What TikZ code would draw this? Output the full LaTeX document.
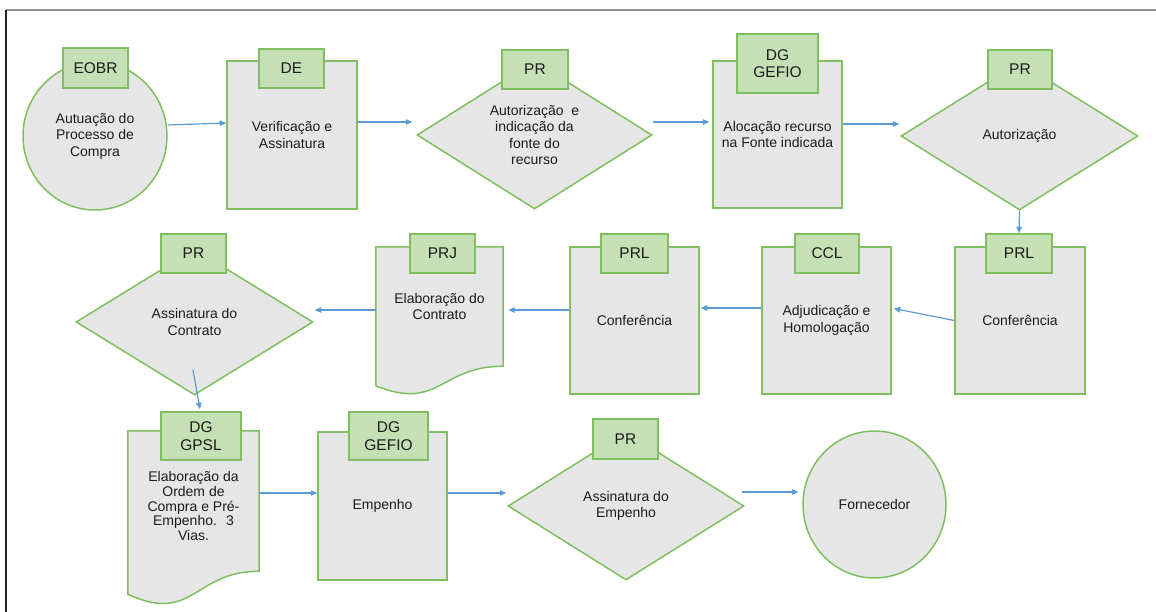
\documentclass[tikz,border=0pt]{standalone}
\usepackage{fontspec}
\setmainfont{Liberation Sans}
\usetikzlibrary{shapes.geometric,arrows.meta,backgrounds}

\definecolor{shapegray}{HTML}{E7E6E6}
\definecolor{edgegreen}{HTML}{7FBF5F}
\definecolor{hdrgreen}{HTML}{C5E0B4}
\definecolor{flowblue}{HTML}{5B9BD5}
\definecolor{txtcol}{HTML}{1C1C1C}

\tikzset{
  bodytxt/.style={font=\fontsize{14}{16.5}\selectfont, text=txtcol, align=center},
  shapeline/.style={draw=edgegreen, fill=shapegray, line width=1.5pt},
  procbox/.style={shapeline, rectangle, inner sep=0pt, bodytxt},
  decbox/.style={shapeline, diamond, aspect=1.6, inner sep=0pt, bodytxt},
  termbox/.style={shapeline, ellipse, inner sep=0pt, bodytxt},
  docnode/.style={rectangle, inner sep=0pt, bodytxt},
  hdr/.style={draw=edgegreen, fill=hdrgreen, line width=1.5pt, inner sep=0pt,
    font=\fontsize{15.5}{17.5}\selectfont, text=txtcol, align=center},
  flow/.style={draw=flowblue, line width=1.2pt, -{Triangle[length=6.5pt,width=5.5pt]}},
}

\begin{document}
\begin{tikzpicture}[x=1pt,y=-1pt]
\useasboundingbox (0,0) rectangle (1156,612);

% page frame
\draw[line width=1.4pt, gray!85] (6,10) -- (1156,10);
\draw[line width=1.4pt, black!85] (6,10) -- (6,612);

% ---- first row ----
\node[termbox, minimum width=144pt, minimum height=148pt] (eobr) at (95,136) {Autuação do\\Processo de\\Compra};
\node[procbox, minimum width=130pt, minimum height=148pt] (de) at (292,135) {Verificação e\\Assinatura};
\node[decbox, minimum width=235pt, minimum height=148pt] (d1) at (534.5,135) {Autorização~ e\\indicação da\\fonte do\\recurso};
\node[procbox, minimum width=129pt, minimum height=147pt] (gef1) at (777.5,134.5) {Alocação recurso\\na Fonte indicada};
\node[decbox, minimum width=237pt, minimum height=148pt] (d2) at (1019.5,136) {Autorização};

\node[hdr, minimum width=65pt, minimum height=40pt] (heobr) at (95.5,68) {EOBR};
\node[hdr, minimum width=65pt, minimum height=39pt] (hde) at (291.5,68.5) {DE};
\node[hdr, minimum width=66pt, minimum height=39pt] (hd1) at (535,69.5) {PR};
\node[hdr, minimum width=81pt, minimum height=59pt] (hgef1) at (777.5,63.5) {DG\\GEFIO};
\node[hdr, minimum width=64pt, minimum height=39pt] (hd2) at (1020,69.5) {PR};

% ---- second row ----
\node[procbox, minimum width=130pt, minimum height=147pt] (prl1) at (1020,320.5) {Conferência};
\node[procbox, minimum width=129pt, minimum height=147pt] (ccl) at (826.5,320.5) {Adjudicação e\\Homologação};
\node[procbox, minimum width=129pt, minimum height=147pt] (prlm) at (634.5,320.5) {Conferência};
\node[docnode, minimum width=127pt, minimum height=119pt] (prj) at (439.5,306.5) {Elaboração do\\Contrato};
\node[decbox, minimum width=237pt, minimum height=146pt] (d3) at (194.5,322) {Assinatura do\\Contrato};

% ---- third row ----
\node[docnode, minimum width=131pt, minimum height=130pt,
  font=\fontsize{14}{14.8}\selectfont] (gpsl) at (193.5,506) {Elaboração da\\Ordem de\\Compra e Pré-\\Empenho.~ 3\\Vias.};
\node[procbox, minimum width=129pt, minimum height=148pt] (gef2) at (382.5,506) {Empenho};
\node[decbox, minimum width=236pt, minimum height=148pt] (d4) at (626,506) {Assinatura do\\Empenho};
\node[termbox, minimum width=143pt, minimum height=147pt] (forn) at (874.5,504.5) {Fornecedor};

% document outlines with wavy bottom edge
\begin{scope}[on background layer]
\draw[shapeline] (prj.north west) -- (prj.north east) -- (prj.south east)
  .. controls ([xshift=-63.5pt]prj.south east) and ([xshift=63.5pt,yshift=-45.3pt]prj.south west)
  .. ([yshift=-19.6pt]prj.south west) -- cycle;
\draw[shapeline] ([yshift=10pt]gpsl.north west) -- ([yshift=10pt]gpsl.north east) -- (gpsl.south east)
  .. controls ([xshift=-65.5pt]gpsl.south east) and ([xshift=65.5pt,yshift=-53.3pt]gpsl.south west)
  .. ([yshift=-23pt]gpsl.south west) -- cycle;
\end{scope}

\node[hdr, minimum width=66pt, minimum height=39pt] (hprl1) at (1019,253.5) {PRL};
\node[hdr, minimum width=64pt, minimum height=39pt] (hccl) at (827,253.5) {CCL};
\node[hdr, minimum width=67pt, minimum height=39pt] (hprlm) at (634.5,253.5) {PRL};
\node[hdr, minimum width=65pt, minimum height=39pt] (hprj) at (442.5,253.5) {PRJ};
\node[hdr, minimum width=65pt, minimum height=39pt] (hd3) at (193.5,253.5) {PR};

\node[hdr, minimum width=80pt, minimum height=48pt] (hgpsl) at (201,436) {DG\\GPSL};
\node[hdr, minimum width=79pt, minimum height=48pt] (hgef2) at (388.5,436) {DG\\GEFIO};
\node[hdr, minimum width=65pt, minimum height=40pt] (hd4) at (625.5,439) {PR};

% ---- connectors ----
\draw[flow] ([yshift=11pt]eobr.east) -- ([yshift=12pt]de.west);
\draw[flow] ([yshift=13pt]de.east) -- ([xshift=-4pt,yshift=13pt]d1.west);
\draw[flow] ([yshift=13pt]d1.east) -- ([xshift=-3pt,yshift=12.5pt]gef1.west);
\draw[flow] ([yshift=10.5pt]gef1.east) -- ([xshift=-1pt,yshift=12pt]d2.west);
\draw[flow] (d2.south) -- (hprl1.north);
\draw[flow] (prl1.west) -- ([xshift=2pt,yshift=12pt]ccl.east);
\draw[flow] ([yshift=12.5pt]ccl.west) -- ([xshift=1pt,yshift=12.5pt]prlm.east);
\draw[flow] ([yshift=10.5pt]prlm.west) -- ([xshift=5pt,yshift=-3.5pt]prj.east);
\draw[flow] ([yshift=-3.5pt]prj.west) -- ([xshift=1pt,yshift=12pt]d3.east);
\draw[flow] ([xshift=-1.5pt,yshift=-48pt]d3.center) -- ([xshift=-1pt,yshift=2pt]hgpsl.north);
\draw[flow] ([yshift=13pt]gpsl.east) -- ([yshift=13pt]gef2.west);
\draw[flow] ([yshift=13pt]gef2.east) -- ([xshift=-1pt,yshift=13pt]d4.west);
\draw[flow] ([xshift=-3pt,yshift=14pt]d4.east) -- ([xshift=-4pt,yshift=12.5pt]forn.west);
\end{tikzpicture}
\end{document}
